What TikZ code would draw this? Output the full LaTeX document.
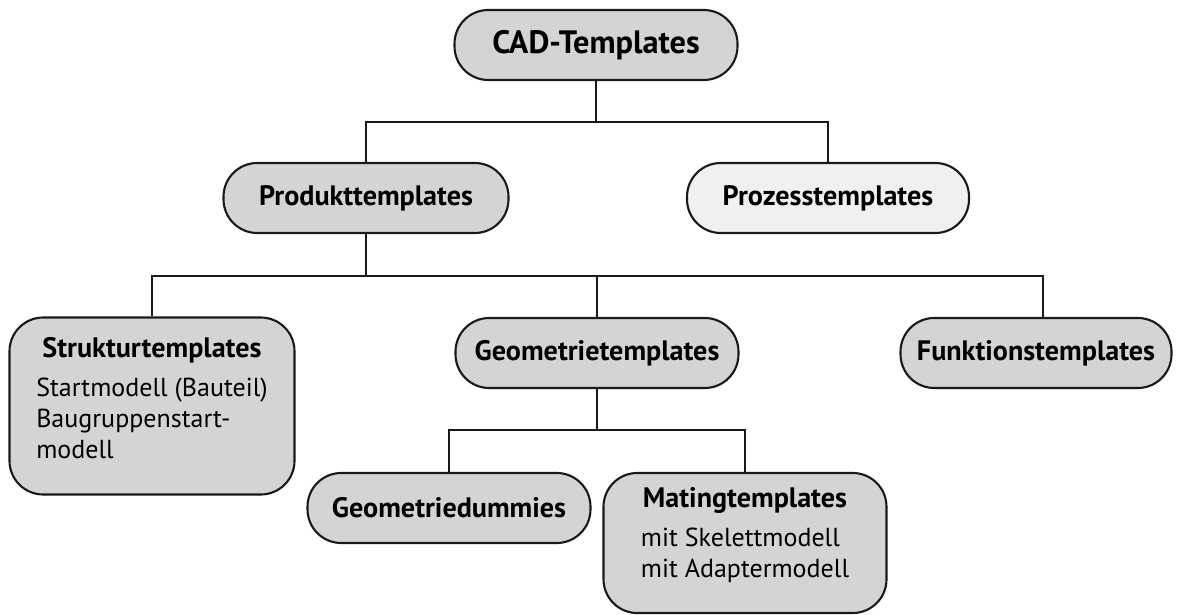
\documentclass[tikz,border=0pt]{standalone}
\usepackage{fontspec}
\setmainfont{PT Sans}
\usetikzlibrary{calc}
\colorlet{boxgray}{black!17}
\colorlet{boxlight}{black!6}
\colorlet{linecol}{black!90}
\tikzset{
  tbox/.style={draw=linecol,line width=1.5pt,fill=boxgray,rounded corners=24pt,
               inner sep=0pt,minimum height=70*0.025cm,font=\fontsize{20}{24}\selectfont\bfseries},
  wire/.style={draw=linecol,line width=1.7pt}
}
\begin{document}
\begin{tikzpicture}[x=0.025cm,y=-0.025cm]
  \useasboundingbox (0,0) rectangle (1181,615);
  \def\ls{\fontsize{18.5}{22}\selectfont\mdseries}

  % BOXES
  \node[tbox,minimum width=283*0.025cm,font=\fontsize{23}{27}\selectfont\bfseries] (cad) at (596,45) {CAD-Templates};
  \node[tbox,minimum width=285*0.025cm] (prod) at (366,198) {Produkttemplates};
  \node[tbox,minimum width=282*0.025cm,fill=boxlight] (proz) at (828,198) {Prozesstemplates};
  \node[tbox,minimum width=285*0.025cm,minimum height=177*0.025cm,align=center] (struk) at (152,406)
    {Strukturtemplates\\[7pt]
     {\ls\begin{tabular}{@{}l@{}}Startmodell (Bauteil)\\Baugruppenstart-\\modell\end{tabular}}\\[4pt]};
  \node[tbox,minimum width=283*0.025cm] (geom) at (597,353) {Geometrietemplates};
  \node[tbox,minimum width=271*0.025cm] (funk) at (1036,353) {Funktionstemplates};
  \node[tbox,minimum width=283*0.025cm] (dummy) at (449,508) {Geometriedummies};
  \node[tbox,minimum width=283*0.025cm,minimum height=140*0.025cm,align=center] (mating) at (745,543)
    {Matingtemplates\\[7pt]
     {\ls\begin{tabular}{@{}l@{}}mit Skelettmodell\\mit Adaptermodell\end{tabular}}\\[2pt]};

  % LINES
  \coordinate (bus1) at (596,122);
  \coordinate (bus2) at (366,276);
  \coordinate (bus3) at (597,430);
  \draw[wire] (cad.south) -- (bus1);
  \draw[wire] (prod.north) |- (bus1) -| (proz.north);
  \draw[wire] (prod.south) -- (bus2);
  \draw[wire] (struk.north) |- (bus2) -| ([xshift=5pt]funk.north);
  \draw[wire] (geom.north) -- (geom.north |- bus2);
  \draw[wire] (geom.south) -- (bus3);
  \draw[wire] (dummy.north) |- (bus3) -| (mating.north);
\end{tikzpicture}
\end{document}
